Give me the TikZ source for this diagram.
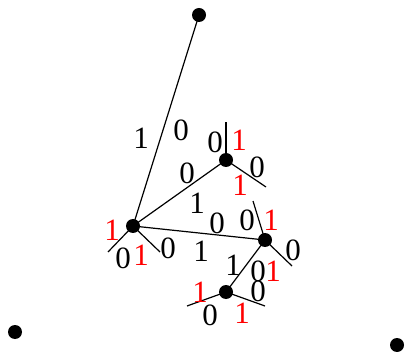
\documentclass[tikz,border=0pt]{standalone}
\usepackage{fontspec}
\setmainfont{Liberation Serif}
\begin{document}
\begin{tikzpicture}[x=1pt,y=-1pt,
  dot/.style={circle,fill=black,inner sep=0pt,minimum size=14pt},
  edge/.style={line width=1.2pt},
  lab/.style={inner sep=0pt,font=\fontsize{31}{31}\selectfont},
  rlab/.style={lab,text=red}]
\useasboundingbox (0,0) rectangle (406,352);
% vertices
\node[dot] (T) at (199,15) {};
\node[dot] (A) at (133,226) {};
\node[dot] (B) at (226,160) {};
\node[dot] (C) at (265,240) {};
\node[dot] (D) at (226,292) {};
\node[dot] (L) at (15,332) {};
\node[dot] (R) at (397,345) {};
% stub ends
\coordinate (a1) at (108,252);
\coordinate (a2) at (160,252);
\coordinate (b1) at (226,122);
\coordinate (b2) at (266,187);
\coordinate (c1) at (253,201);
\coordinate (c2) at (292,266);
\coordinate (d1) at (187,306);
\coordinate (d2) at (265,306);
% edges
\draw[edge] (A.center) -- (T.center);
\draw[edge] (A.center) -- (B.center);
\draw[edge] (A.center) -- (C.center);
\draw[edge] (C.center) -- (D.center);
\draw[edge] (A.center) -- (a1);
\draw[edge] (A.center) -- (a2);
\draw[edge] (B.center) -- (b1);
\draw[edge] (B.center) -- (b2);
\draw[edge] (C.center) -- (c1);
\draw[edge] (C.center) -- (c2);
\draw[edge] (D.center) -- (d1);
\draw[edge] (D.center) -- (d2);
% labels
\node[lab] (l1) at (141,138) {1};
\node[lab] (l2) at (181,130) {0};
\node[lab] (l3) at (187,173) {0};
\node[lab] (l4) at (197,203) {1};
\node[rlab] (l5) at (112,230) {1};
\node[lab] (l6) at (123,258) {0};
\node[rlab] (l7) at (141,255) {1};
\node[lab] (l8) at (168,248) {0};
\node[lab] (l9) at (201,251) {1};
\node[lab] (l10) at (215,142) {0};
\node[rlab] (l11) at (239,140) {1};
\node[lab] (l12) at (257,167) {0};
\node[rlab] (l13) at (240,185) {1};
\node[lab] (l14) at (217,223) {0};
\node[lab] (l15) at (247,220) {0};
\node[rlab] (l16) at (271,220) {1};
\node[lab] (l17) at (293,250) {0};
\node[lab] (l18) at (233,265) {1};
\node[lab] (l19) at (258,271) {0};
\node[rlab] (l20) at (273,271) {1};
\node[lab] (l21) at (258,291) {0};
\node[rlab] (l22) at (200,292) {1};
\node[lab] (l23) at (210,315) {0};
\node[rlab] (l24) at (242,313) {1};
\end{tikzpicture}
\end{document}
